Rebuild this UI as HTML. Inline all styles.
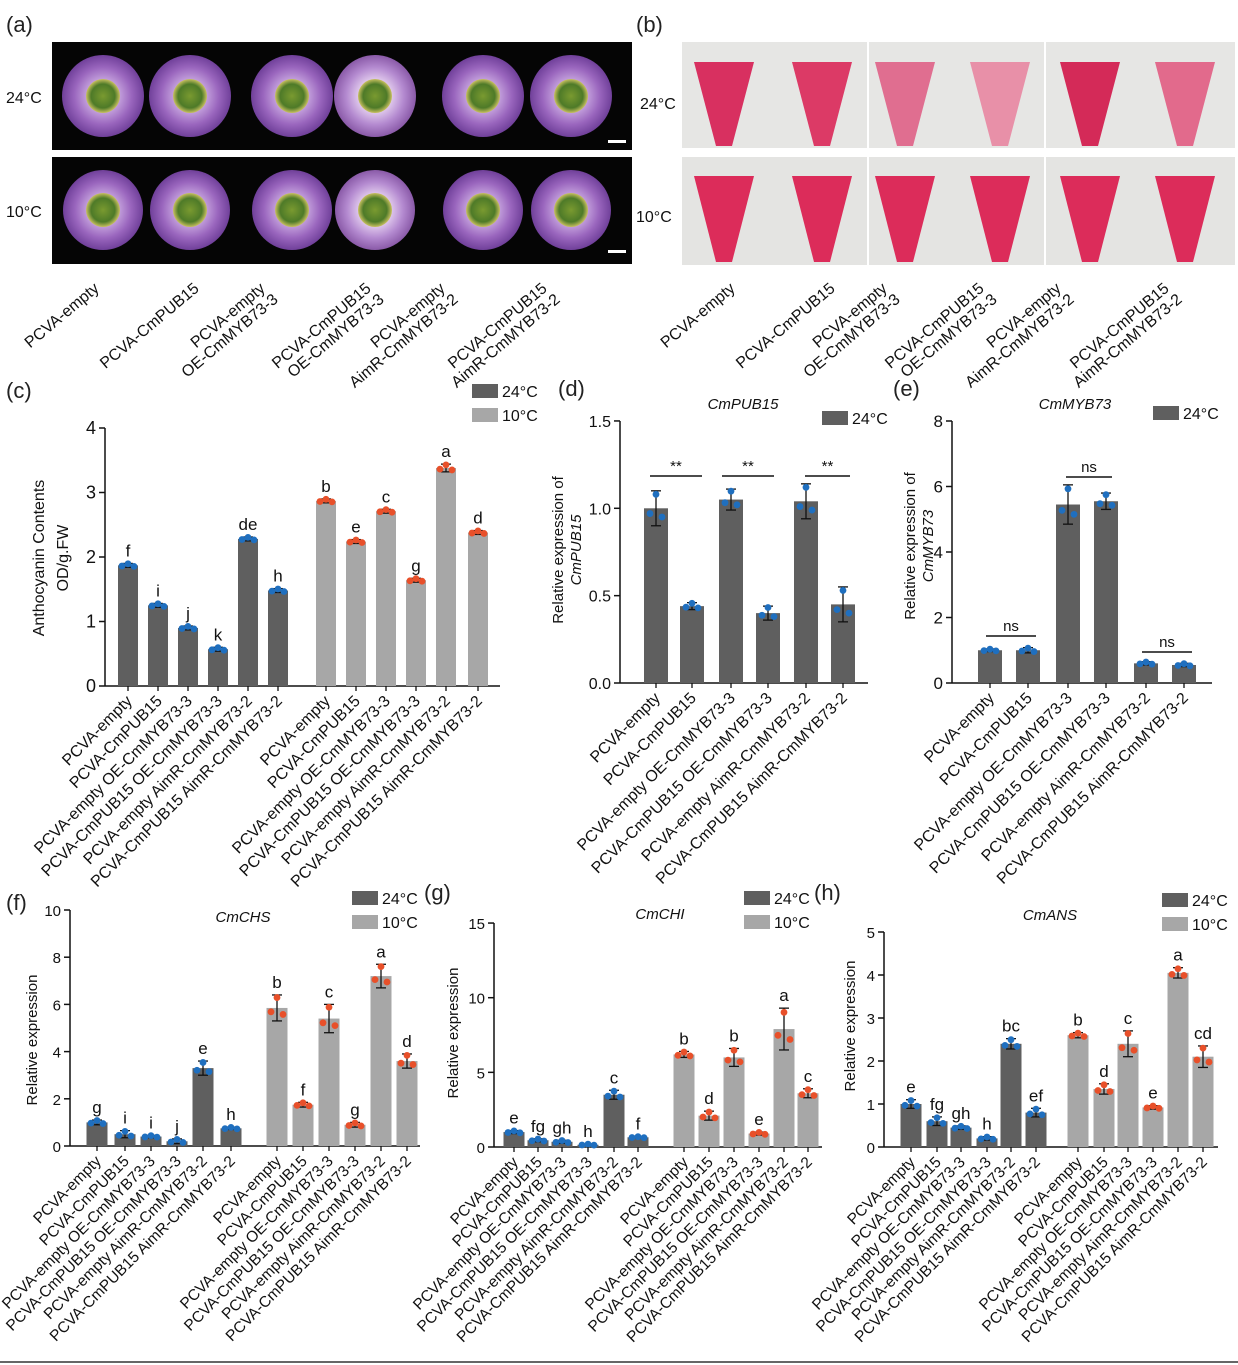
<!DOCTYPE html>
<html><head><meta charset="utf-8"><style>
html,body{margin:0;padding:0;background:#fff}
svg{display:block;font-family:"Liberation Sans",Arial,sans-serif}
</style></head><body>
<svg id="s" width="1238" height="1365" viewBox="0 0 1238 1365" xmlns="http://www.w3.org/2000/svg">
<defs>
<radialGradient id="fl" cx="50%" cy="50%" r="50%"><stop offset="0.35" stop-color="#e6d2f0"/><stop offset="0.7" stop-color="#b48ad0"/><stop offset="1" stop-color="#8a5aa8"/></radialGradient>
<radialGradient id="fl2" cx="50%" cy="50%" r="50%"><stop offset="0.35" stop-color="#c9a8e0"/><stop offset="0.7" stop-color="#9a66be"/><stop offset="1" stop-color="#70409a"/></radialGradient>
<radialGradient id="cen" cx="50%" cy="50%" r="50%"><stop offset="0" stop-color="#7a9a30"/><stop offset="0.7" stop-color="#4e7a28"/><stop offset="1" stop-color="#c8c060"/></radialGradient>
</defs>
<rect width="1238" height="1365" fill="#fff"/>
<g id="g"></g>
<g font-size="22" fill="#222">
<text x="6" y="32">(a)</text><text x="636" y="32">(b)</text>
<text x="6" y="398">(c)</text><text x="558" y="396">(d)</text><text x="893" y="396">(e)</text>
<text x="6" y="910">(f)</text><text x="424" y="900">(g)</text><text x="814" y="900">(h)</text>
</g>
<g font-size="16" fill="#111">
<text x="6" y="103">24°C</text><text x="6" y="217">10°C</text>
<text x="640" y="109">24°C</text><text x="636" y="222">10°C</text>
</g>
<g font-size="15" font-style="italic" fill="#111" text-anchor="middle">
<text x="743" y="409">CmPUB15</text><text x="1075" y="409">CmMYB73</text>
<text x="243" y="922">CmCHS</text><text x="660" y="919">CmCHI</text><text x="1050" y="920">CmANS</text>
</g>
<g font-size="16" fill="#111" text-anchor="middle">
<text transform="translate(44,558) rotate(-90)">Anthocyanin Contents</text>
<text transform="translate(68,558) rotate(-90)">OD/g.FW</text>
<text transform="translate(563,550) rotate(-90)" font-size="15">Relative expression of</text>
<text transform="translate(581,550) rotate(-90)" font-size="15" font-style="italic">CmPUB15</text>
<text transform="translate(915,546) rotate(-90)" font-size="15">Relative expression  of</text>
<text transform="translate(933,546) rotate(-90)" font-size="15" font-style="italic">CmMYB73</text>
<text transform="translate(37,1040) rotate(-90)" font-size="15">Relative expression</text>
<text transform="translate(458,1033) rotate(-90)" font-size="15">Relative expression</text>
<text transform="translate(855,1026) rotate(-90)" font-size="15">Relative expression</text>
</g>
<line x1="0" y1="1362" x2="1238" y2="1362" stroke="#333" stroke-width="1.5"/>
</svg>
<script>
var G=document.getElementById('g'),NS='http://www.w3.org/2000/svg';
function el(t,a,txt){var e=document.createElementNS(NS,t);for(var k in a)e.setAttribute(k,a[k]);if(txt!=null)e.textContent=txt;G.appendChild(e);return e;}
el('rect',{x:52,y:42,width:580,height:108,fill:'#050505'});
el('rect',{x:52,y:157,width:580,height:107,fill:'#050505'});
var fx=[103,190,292,375,483,571];
fx.forEach(function(x,i){
 el('circle',{cx:x,cy:96,r:41,fill:(i==3?'url(#fl)':'url(#fl2)')});
 el('circle',{cx:x,cy:96,r:17,fill:'url(#cen)'});
 el('circle',{cx:x,cy:210,r:40,fill:(i==3?'url(#fl)':'url(#fl2)')});
 el('circle',{cx:x,cy:210,r:17,fill:'url(#cen)'});
});
el('rect',{x:608,y:140,width:18,height:3,fill:'#fff'});
el('rect',{x:608,y:250,width:18,height:3,fill:'#fff'});
[[682,867],[869,1044],[1046,1235]].forEach(function(p){
 el('rect',{x:p[0],y:42,width:p[1]-p[0],height:106,fill:'#e6e6e4'});
 el('rect',{x:p[0],y:157,width:p[1]-p[0],height:108,fill:'#e4e4e2'});
});
var tx=[724,822,905,1000,1090,1185],tc=['#d83060','#dc3a66','#e06e90','#e890a8','#d42a58','#e26a8c'];
tx.forEach(function(x,i){
 el('path',{d:'M'+(x-30)+' 62 L'+(x+30)+' 62 L'+(x+8)+' 146 L'+(x-8)+' 146 Z',fill:tc[i]});
 el('path',{d:'M'+(x-30)+' 176 L'+(x+30)+' 176 L'+(x+8)+' 262 L'+(x-8)+' 262 Z',fill:'#dc2c5a'});
});
var lab2=[['PCVA-empty'],['PCVA-CmPUB15'],['PCVA-empty','OE-CmMYB73-3'],['PCVA-CmPUB15','OE-CmMYB73-3'],['PCVA-empty','AimR-CmMYB73-2'],['PCVA-CmPUB15','AimR-CmMYB73-2']];
function toplabels(xs,y){xs.forEach(function(x,i){var L=lab2[i];
 L.forEach(function(s,j){el('text',{x:0,y:0,'font-size':16,fill:'#111','text-anchor':'end',transform:'translate('+(x+j*13)+','+(y+j*11)+') rotate(-40)'},s);});});}
toplabels([100,200,266,372,446,548],290);
toplabels([736,836,888,985,1062,1170],290);
var names=['PCVA-empty','PCVA-CmPUB15','PCVA-empty OE-CmMYB73-3','PCVA-CmPUB15 OE-CmMYB73-3','PCVA-empty AimR-CmMYB73-2','PCVA-CmPUB15 AimR-CmMYB73-2'];
function chart(o){
 var y=function(v){return o.y0-v*o.k;};
 el('line',{x1:o.x0,y1:o.y0,x2:o.x0,y2:y(o.ticks[o.ticks.length-1]),stroke:'#111','stroke-width':1.5});
 el('line',{x1:o.x0,y1:o.y0,x2:o.xe,y2:o.y0,stroke:'#111','stroke-width':1.5});
 o.ticks.forEach(function(t){el('line',{x1:o.x0-6,y1:y(t),x2:o.x0,y2:y(t),stroke:'#111','stroke-width':1.5});
  el('text',{x:o.x0-9,y:y(t)+6,'font-size':o.tf||16,'text-anchor':'end',fill:'#111'},o.fmt?o.fmt(t):t);});
 o.xs.forEach(function(x,i){var v=o.v[i],w=o.w,dark=i<6;
  if(o.all)dark=true;
  el('rect',{x:x-w/2,y:y(v),width:w,height:v*o.k,fill:dark?'#5f5f5f':'#a7a7a7'});
  var e=o.e[i];
  el('line',{x1:x,y1:y(v+e),x2:x,y2:y(v-e),stroke:'#111','stroke-width':1.3});
  el('line',{x1:x-5,y1:y(v+e),x2:x+5,y2:y(v+e),stroke:'#111','stroke-width':1.3});
  el('line',{x1:x-5,y1:y(v-e),x2:x+5,y2:y(v-e),stroke:'#111','stroke-width':1.3});
  var dc=dark?'#1f6fbf':'#e8502a';
  [[-6,-0.3],[0,0.8],[6,-0.5]].forEach(function(d){el('circle',{cx:x+d[0],cy:y(v+d[1]*e),r:3.4,fill:dc});});
  el('line',{x1:x,y1:o.y0,x2:x,y2:o.y0+5,stroke:'#111','stroke-width':1.3});
  if(o.L)el('text',{x:x,y:y(v+e)-7,'font-size':17,'text-anchor':'middle',fill:'#111'},o.L[i]);
  el('text',{x:0,y:0,'font-size':o.lf,fill:'#111','text-anchor':'end',transform:'translate('+(x+5)+','+(o.y0+16)+') rotate(-45)'},names[i%6]);
 });
 if(o.leg){el('rect',{x:o.leg[0],y:o.leg[1],width:26,height:14,fill:'#5f5f5f'});
  el('text',{x:o.leg[0]+30,y:o.leg[1]+13,'font-size':16,fill:'#111'},'24°C');
  if(!o.all){el('rect',{x:o.leg[0],y:o.leg[1]+24,width:26,height:14,fill:'#a7a7a7'});
  el('text',{x:o.leg[0]+30,y:o.leg[1]+37,'font-size':16,fill:'#111'},'10°C');}}
}
chart({x0:105,y0:686,k:64.5,xe:500,ticks:[0,1,2,3,4],tf:18,w:20,lf:16,
 xs:[128,158,188,218,248,278,326,356,386,416,446,478],
 v:[1.87,1.25,0.9,0.57,2.28,1.48,2.87,2.24,2.71,1.64,3.38,2.38],
 e:[.03,.03,.03,.03,.03,.03,.03,.03,.03,.03,.06,.03],
 L:['f','i','j','k','de','h','b','e','c','g','a','d'],leg:[472,384]});
chart({x0:620,y0:683,k:174.7,xe:868,ticks:[0,0.5,1,1.5],fmt:function(t){return t.toFixed(1);},w:24,all:true,lf:16,
 xs:[656,692,731,768,806,843],v:[1,0.44,1.05,0.4,1.04,0.45],e:[.1,.02,.06,.04,.1,.1],leg:[822,411]});
chart({x0:952,y0:683,k:32.75,xe:1212,ticks:[0,2,4,6,8],tf:17,w:24,all:true,lf:16,
 xs:[990,1028,1068,1106,1146,1184],v:[1,1,5.45,5.55,0.6,0.55],e:[.04,.08,.6,.25,.05,.05],leg:[1153,406]});
chart({x0:70,y0:1146,k:23.6,xe:420,ticks:[0,2,4,6,8,10],tf:15,w:21,lf:15.5,
 xs:[97,125,151,177,203,231,277,303,329,355,381,407],
 v:[1,0.5,0.4,0.2,3.3,0.75,5.85,1.75,5.4,0.9,7.2,3.6],
 e:[.1,.15,.05,.1,.3,.05,.55,.1,.6,.1,.5,.3],
 L:['g','i','i','j','e','h','b','f','c','g','a','d'],leg:[352,891]});
chart({x0:494,y0:1147,k:14.93,xe:822,ticks:[0,5,10,15],tf:15,w:21,lf:15.5,
 xs:[514,538,562,588,614,638,684,709,734,759,784,808],
 v:[1,0.45,0.35,0.15,3.5,0.65,6.2,2.1,6,0.9,7.9,3.6],
 e:[.1,.1,.1,.05,.3,.05,.2,.3,.6,.1,1.4,.3],
 L:['e','fg','gh','h','c','f','b','d','b','e','a','c'],leg:[744,891]});
chart({x0:884,y0:1147,k:43,xe:1218,ticks:[0,1,2,3,4,5],tf:15,w:21,lf:15.5,
 xs:[911,937,961,987,1011,1036,1078,1104,1128,1153,1178,1203],
 v:[1,0.6,0.45,0.2,2.4,0.8,2.6,1.35,2.4,0.92,4.05,2.1],
 e:[.1,.1,.04,.04,.12,.1,.06,.12,.3,.04,.12,.25],
 L:['e','fg','gh','h','bc','ef','b','d','c','e','a','cd'],leg:[1162,893]});
function br(x1,x2,y,s){el('line',{x1:x1,y1:y,x2:x2,y2:y,stroke:'#111','stroke-width':1.5});
 el('text',{x:(x1+x2)/2,y:y-5,'font-size':15,'text-anchor':'middle',fill:'#111'},s);}
br(650,702,476,'**');br(722,774,476,'**');br(805,850,476,'**');
br(986,1036,636,'ns');br(1066,1112,477,'ns');br(1142,1192,652,'ns');
</script>
</body></html>
